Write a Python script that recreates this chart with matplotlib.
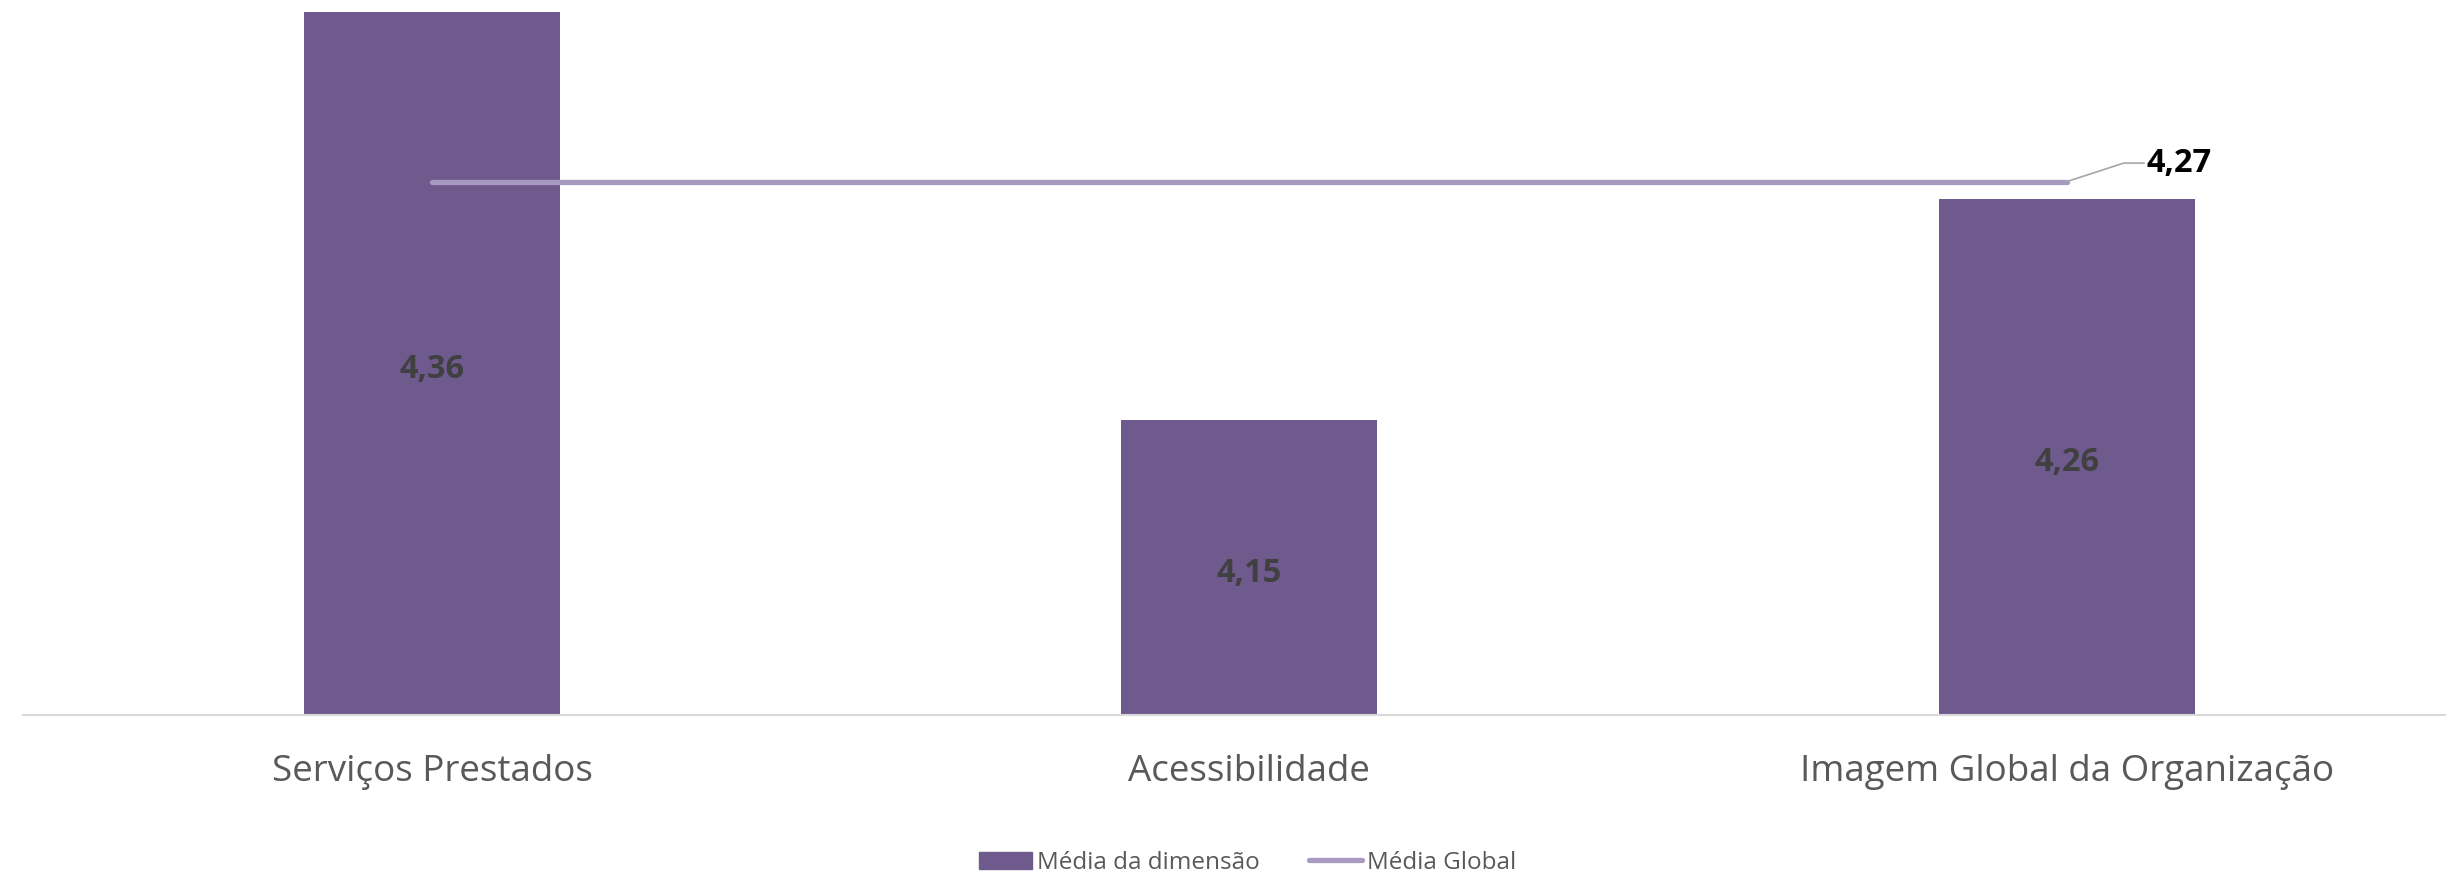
import matplotlib.pyplot as plt
from matplotlib.patches import Patch
from matplotlib.lines import Line2D

categories = ["Serviços Prestados", "Acessibilidade", "Imagem Global da Organização"]
dim_means = [4.36, 4.151, 4.264]
global_mean = 4.273

bar_color = "#6F5A8E"
line_color = "#A899C0"

plt.rcParams["font.family"] = ["Open Sans", "DejaVu Sans"]

fig = plt.figure(figsize=(24.46, 8.77), dpi=100)
ax = fig.add_axes([15 / 1568, 1 - 458 / 562, 1 - 15 / 1568, 458 / 562])

x = list(range(len(categories)))
ax.bar(x, dim_means, width=0.313, color=bar_color, zorder=2)
ax.set_ylim(4.0, 4.366)
ax.set_xlim(-0.5, 2.464)

# global mean line spans first to last category
ax.plot([x[0], x[-1]], [global_mean, global_mean], color=line_color, lw=3.8,
        solid_capstyle="round", zorder=3)

# value labels in the middle of each bar
for xi, v in zip(x, dim_means):
    ax.text(xi, 4.0 + (v - 4.0) / 2 - 0.003, f"{v:.2f}".replace(".", ","),
            ha="center", va="center", fontsize=23.5, fontweight="bold", color="#404040")

# callout for the global mean
ax.annotate(f"{global_mean:.2f}".replace(".", ","), xy=(x[-1], global_mean),
            xytext=(x[-1] + 0.098, global_mean + 0.0095), textcoords="data",
            ha="left", va="center", fontsize=23.5, fontweight="bold", color="black",
            arrowprops=dict(arrowstyle="-", color="#A6A6A6", lw=1.2,
                            connectionstyle="angle,angleA=0,angleB=18,rad=0",
                            shrinkA=0, shrinkB=0))

for s in ["top", "right", "left"]:
    ax.spines[s].set_visible(False)
ax.spines["bottom"].set_color("#D9D9D9")
ax.spines["bottom"].set_linewidth(1.5)
ax.set_yticks([])
ax.set_xticks(x)
ax.set_xticklabels(categories, fontsize=26.5, color="#595959")
ax.tick_params(axis="x", length=0, pad=28)

handles = [Patch(color=bar_color), Line2D([0], [0], color=line_color, lw=3.8, solid_capstyle="round")]
fig.legend(handles, ["Média da dimensão", "Média Global"], loc="center",
           bbox_to_anchor=(0.51, 1 - 553 / 562), ncol=2, frameon=False,
           fontsize=17.5, labelcolor="#595959", handlelength=2.2, handletextpad=0.2,
           columnspacing=2.0)

fig.savefig("out.png", dpi=100)
